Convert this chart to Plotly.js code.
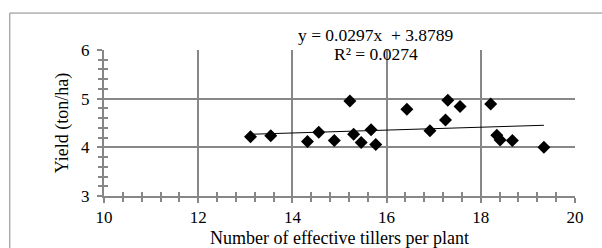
<!DOCTYPE html>
<html>
<head>
<meta charset="utf-8">
<script src="https://cdn.plot.ly/plotly-3.0.1.min.js"></script>
<style>html,body{margin:0;padding:0;background:#fff;}#chart{width:602px;height:248px;}</style>
</head>
<body>
<div id="chart"></div>
<script>
const tillers = [13.11, 13.54, 14.32, 14.56, 14.89, 15.22, 15.30, 15.46, 15.67, 15.77, 16.43, 16.92, 17.25, 17.30, 17.56, 18.21, 18.34, 18.41, 18.67, 19.34];
const yieldVals = [4.22, 4.24, 4.12, 4.31, 4.14, 4.95, 4.27, 4.10, 4.36, 4.06, 4.78, 4.34, 4.56, 4.97, 4.84, 4.89, 4.25, 4.15, 4.14, 4.00];
const slope = 0.0297;
const intercept = 3.8789;
const rSquared = 0.0274;
const xTickVals = [10, 12, 14, 16, 18, 20];
const yTickVals = [3, 4, 5, 6];

const xMin = Math.min(...tillers), xMax = Math.max(...tillers);
const trendX = [xMin, xMax];
const trendY = trendX.map(v => slope * v + intercept);

const gridCol = '#878787';
const font = 'Liberation Serif, Times New Roman, serif';

const traces = [
  {x: trendX, y: trendY, mode: 'lines', type: 'scatter', line: {color: '#000', width: 1}, hoverinfo: 'skip'},
  {x: tillers, y: yieldVals, mode: 'markers', type: 'scatter', marker: {symbol: 'diamond', size: 10, color: '#000'}},
  {x: [xMin], y: [yieldVals[0]], xaxis: 'x2', yaxis: 'y2', mode: 'markers', marker: {opacity: 0}, hoverinfo: 'skip'}
];

const axBase = {
  showline: true, linecolor: gridCol, linewidth: 2,
  gridcolor: gridCol, gridwidth: 2, zeroline: false,
  tickfont: {family: font, size: 17, color: '#000'},
  tickcolor: gridCol, tickwidth: 2
};

const layout = {
  width: 602, height: 248,
  margin: {l: 104, r: 27, t: 50, b: 52},
  paper_bgcolor: '#fff', plot_bgcolor: '#fff',
  showlegend: false,
  xaxis: Object.assign({}, axBase, {
    range: [10, 20], tickvals: xTickVals, ticks: 'outside', ticklen: 5,
    minor: {dtick: 0.4, ticks: 'outside', ticklen: 4, tickcolor: gridCol, tickwidth: 2, showgrid: false},
    title: {text: 'Number of effective tillers per plant', font: {family: font, size: 18, color: '#000'}, standoff: 7}
  }),
  yaxis: Object.assign({}, axBase, {
    range: [3, 6], tickvals: yTickVals, ticks: 'outside', ticklen: 5, ticklabelstandoff: 4,
    minor: {dtick: 0.2, ticks: 'outside', ticklen: 4, tickcolor: gridCol, tickwidth: 2, showgrid: false},
    title: {text: 'Yield (ton/ha)', font: {family: font, size: 18, color: '#000'}, standoff: 8}
  }),
  xaxis2: {
    overlaying: 'x', matches: 'x', range: [10, 20], anchor: 'y2', side: 'bottom',
    showgrid: false, showline: false, zeroline: false, showticklabels: false,
    tickvals: xTickVals, ticks: 'inside', ticklen: 5, tickcolor: gridCol, tickwidth: 2,
    minor: {dtick: 0.4, ticks: 'inside', ticklen: 4, tickcolor: gridCol, tickwidth: 2, showgrid: false}
  },
  yaxis2: {
    overlaying: 'y', matches: 'y', range: [3, 6], anchor: 'x2', side: 'left',
    showgrid: false, showline: false, zeroline: false, showticklabels: false,
    tickvals: yTickVals, ticks: 'inside', ticklen: 5, tickcolor: gridCol, tickwidth: 2,
    minor: {dtick: 0.2, ticks: 'inside', ticklen: 4, tickcolor: gridCol, tickwidth: 2, showgrid: false}
  },
  annotations: [
    {xref: 'paper', yref: 'paper', x: 0.578, y: 1.1, xanchor: 'center', yanchor: 'middle', showarrow: false,
     text: 'y = ' + slope.toFixed(4) + 'x  + ' + intercept.toFixed(4), font: {family: font, size: 17.5, color: '#000'}},
    {xref: 'paper', yref: 'paper', x: 0.578, y: 0.97, xanchor: 'center', yanchor: 'middle', showarrow: false,
     text: 'R² = ' + rSquared.toFixed(4), font: {family: font, size: 17.5, color: '#000'}}
  ],
  shapes: [
    {type: 'rect', xref: 'paper', yref: 'paper', x0: -0.2, x1: 1.1, y0: -0.5, y1: 1.253,
     line: {color: '#888', width: 1}, fillcolor: 'rgba(0,0,0,0)', layer: 'below'}
  ]
};

Plotly.newPlot('chart', traces, layout, {displayModeBar: false, staticPlot: true});
</script>
</body>
</html>
